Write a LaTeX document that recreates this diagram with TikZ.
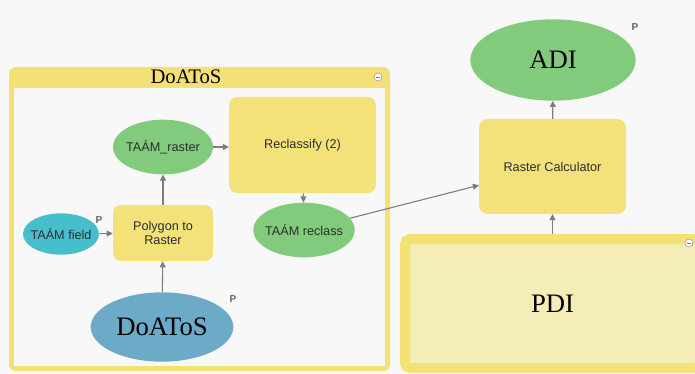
\documentclass[tikz,border=0pt]{standalone}
\usepackage{fontspec}
\setmainfont{Liberation Serif}
\newfontfamily\toolfont{Liberation Sans}
\usetikzlibrary{shapes.geometric, arrows.meta, positioning}

\definecolor{bggray}{RGB}{248,248,248}
\definecolor{toolyellow}{RGB}{243,226,122}
\definecolor{frameyellow}{RGB}{243,225,118}
\definecolor{pdifill}{RGB}{245,237,183}
\definecolor{outgreen}{RGB}{130,203,125}
\definecolor{fieldcyan}{RGB}{70,190,204}
\definecolor{inblue}{RGB}{108,170,200}
\definecolor{linkgray}{RGB}{125,125,125}
\definecolor{txtgray}{RGB}{45,45,45}

\tikzset{
  toolbox/.style={rectangle, rounded corners=6pt, fill=toolyellow, inner sep=0pt, align=center,
    font=\toolfont\fontsize{9.5}{11}\selectfont, text=txtgray},
  varell/.style={ellipse, inner sep=0pt, font=\toolfont\fontsize{9.5}{11}\selectfont, text=txtgray},
  bigtext/.style={font=\fontsize{20}{24}\selectfont, text=black},
  link/.style={draw=linkgray, line width=0.8pt, -{Triangle[length=4.5pt,width=4.5pt]}},
  ptag/.style={font=\toolfont\bfseries\fontsize{7.5}{8}\selectfont, text=linkgray!80!black},
  collapse/.style={circle, draw=linkgray!70, fill=white, line width=0.5pt, minimum size=6pt, inner sep=0pt}
}

\begin{document}
\begin{tikzpicture}[x=0.75pt,y=-0.75pt]
\useasboundingbox (0,0) rectangle (695,374);
\clip (0,0) rectangle (695,374);
\fill[bggray] (0,0) rectangle (695,374);

% DoAToS group
\fill[frameyellow, rounded corners=5pt] (9,67) rectangle (390,371);
\fill[bggray] (14,88) rectangle (385,366);
\node[font=\fontsize{15.5}{18}\selectfont, anchor=base] (grouptitle) at (186,84) {DoAToS};
\node[collapse] (doatosfold) at (378,77) {};
\draw[linkgray, line width=0.6pt] ([xshift=-1.6pt]doatosfold.center) -- ([xshift=1.6pt]doatosfold.center);

% PDI group
\node[draw=frameyellow, line width=7.5pt, fill=pdifill, rounded corners=4pt, inner sep=0pt,
  minimum width=221.25pt, minimum height=96.75pt, bigtext] (pdi) at (552.5,303.5) {PDI};
\node[collapse] (pdifold) at (689,243) {};
\draw[linkgray, line width=0.6pt] ([xshift=-1.6pt]pdifold.center) -- ([xshift=1.6pt]pdifold.center);

% tools
\node[toolbox, minimum width=75pt, minimum height=42pt] (poly) at (163,233) {Polygon to\\Raster};
\node[toolbox, minimum width=110pt, minimum height=72pt] (reclassify) at (302.5,145) {Reclassify (2)};
\node[toolbox, minimum width=110pt, minimum height=71pt] (calc) at (552.5,166.5) {Raster Calculator};

% variables
\node[varell, fill=fieldcyan, minimum width=57pt, minimum height=31pt] (field) at (61,234) {\makebox[0pt]{TAÁM field}};
\node[varell, fill=outgreen, minimum width=75pt, minimum height=41pt] (raster) at (163,147) {\makebox[0pt]{TAÁM\_raster}};
\node[varell, fill=outgreen, minimum width=76pt, minimum height=41pt] (reclassout) at (304,230) {\makebox[0pt]{TAÁM reclass}};
\node[varell, fill=inblue, minimum width=107pt, minimum height=52pt, bigtext] (doatos) at (162,327) {\makebox[0pt]{DoAToS}};
\node[varell, fill=outgreen, minimum width=124pt, minimum height=61pt, bigtext] (adi) at (553,60) {ADI};

% parameter tags
\node[ptag] (fieldp) at (99,220) {P};
\node[ptag] (doatosp) at (233,299) {P};
\node[ptag] (adip) at (635,27) {P};

% connectors
\draw[link] (field) -- (poly);
\draw[link] (doatos) -- (poly);
\draw[link] (poly) -- (raster);
\draw[link] (raster.east) -- (raster.east -| reclassify.west);
\draw[link] (reclassify) -- (reclassout);
\draw[link] (reclassout) -- (calc);
\draw[link] (pdi) -- (calc);
\draw[link] (calc) -- (adi);

\end{tikzpicture}
\end{document}
